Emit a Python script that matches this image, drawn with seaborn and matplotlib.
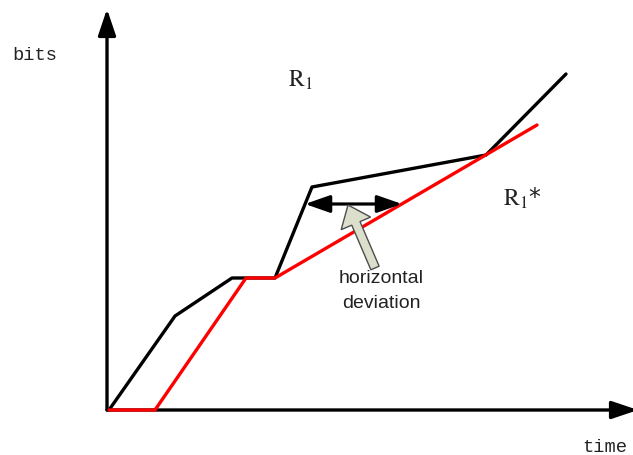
"""
Sketch of a cumulative bits-vs-time curve (black) and its shaped
counterpart (red), with the horizontal deviation between them marked.
"""
import numpy as np
import pandas as pd
import matplotlib.pyplot as plt
import seaborn as sns
from matplotlib.patches import FancyArrow

# cumulative arrival curve R1 (black) and output curve R1* (red)
r1_time = [2, 68, 125, 168, 205, 379, 459]
r1_bits = [0, 94, 132, 132, 223, 255, 336]
r1s_time = [2, 48, 139, 168, 430]
r1s_bits = [0, 0, 132, 132, 285]

# horizontal deviation measured at this bit level
dev_bits = 206
dev_start, dev_end = 198, 295


def main():
    sns.set_style('white')
    plt.rcParams['mathtext.fontset'] = 'stix'

    fig = plt.figure(figsize=(6.33, 4.55), dpi=100)
    ax = fig.add_axes([0, 0, 1, 1])

    df_r1 = pd.DataFrame({'time': r1_time, 'bits': r1_bits})
    df_r1s = pd.DataFrame({'time': r1s_time, 'bits': r1s_bits})
    sns.lineplot(data=df_r1, x='time', y='bits', sort=False, estimator=None,
                 color='k', lw=2.4, ax=ax, zorder=3)
    sns.lineplot(data=df_r1s, x='time', y='bits', sort=False, estimator=None,
                 color='#ff0000', lw=2.4, ax=ax, zorder=4)
    ax.set_xlim(-107, 526)
    ax.set_ylim(-45, 410)
    ax.set_aspect('equal')
    ax.axis('off')

    # axes with arrow heads
    head = '-|>,head_length=0.8,head_width=0.27'
    ax.annotate('', xy=(0, 401), xytext=(0, 0), annotation_clip=False,
                arrowprops=dict(arrowstyle=head, mutation_scale=20, lw=2.4,
                                color='k', shrinkA=0, shrinkB=0))
    ax.annotate('', xy=(531, 0), xytext=(0, 0), annotation_clip=False,
                arrowprops=dict(arrowstyle=head, mutation_scale=20, lw=2.4,
                                color='k', shrinkA=0, shrinkB=0))

    # double-headed deviation arrow
    ax.annotate('', xy=(dev_end, dev_bits), xytext=(dev_start, dev_bits),
                arrowprops=dict(arrowstyle='<|-|>,head_length=1.0,head_width=0.35',
                                mutation_scale=15, lw=2.3, color='k',
                                shrinkA=0, shrinkB=0), zorder=5)

    # hollow pointer arrow
    tip = np.array([241, 205])
    tail = np.array([268, 142])
    d = tip - tail
    ax.add_patch(FancyArrow(tail[0], tail[1], d[0], d[1], width=9,
                            head_width=32, head_length=20,
                            length_includes_head=True,
                            fc='#dcdfcc', ec='#4d4d4d', lw=1.0, zorder=6))

    ax.text(274, 119, 'horizontal\ndeviation', ha='center', va='center',
            fontsize=14, family='Liberation Sans', color='#222222',
            linespacing=1.6)

    ax.text(-72, 355, 'bits', ha='center', va='center', fontsize=13.5,
            family='Liberation Mono', color='#222222')
    ax.text(498, -37, 'time', ha='center', va='center', fontsize=13.5,
            family='Liberation Mono', color='#222222')
    ax.text(193, 330, r'$\mathrm{R}_1$', ha='center', va='center',
            fontsize=17, color='#222222')
    ax.text(415, 212, r'$\mathrm{R}_1$*', ha='center', va='center',
            fontsize=17, color='#222222')

    fig.savefig('out.png', dpi=100)


if __name__ == '__main__':
    main()
